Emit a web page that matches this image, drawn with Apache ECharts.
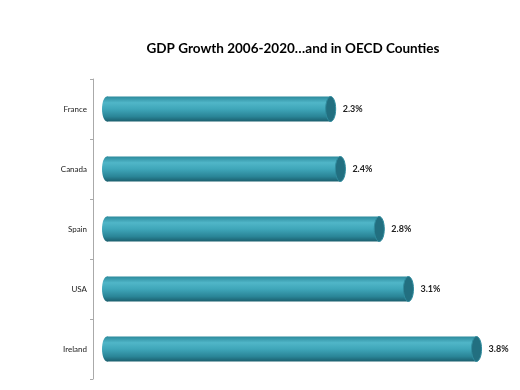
<!DOCTYPE html>
<html><head><meta charset="utf-8">
<script src="https://cdn.jsdelivr.net/npm/echarts@6/dist/echarts.min.js"></script>
<style>html,body{margin:0;padding:0;background:#fff}#c{width:520px;height:390px}</style>
</head><body><div id="c"></div>
<script>
const categories = ['France', 'Canada', 'Spain', 'USA', 'Ireland'];
const values = [2.3, 2.4, 2.8, 3.1, 3.8];
const valueLabels = ['2.3%', '2.4%', '2.8%', '3.1%', '3.8%'];

const chart = echarts.init(document.getElementById('c'));
const bodyGrad = () => new echarts.graphic.LinearGradient(0, 0, 0, 1, [
  {offset: 0, color: '#2c8a9c'},
  {offset: 0.25, color: '#50b6c8'},
  {offset: 0.5, color: '#3fa6b9'},
  {offset: 0.8, color: '#2a8597'},
  {offset: 1, color: '#1b5f6e'}
]);
chart.setOption({
  animation: false,
  title: {
    text: 'GDP Growth 2006-2020…and in OECD Counties',
    left: 288, top: 37, textAlign: 'center',
    textStyle: {fontFamily: 'Lato', fontWeight: 'bold', fontSize: 13.5, color: '#000'}
  },
  grid: {left: 93, right: 24, top: 79, bottom: 11},
  xAxis: {type: 'value', min: -0.144, max: 4, show: false},
  yAxis: {
    type: 'category', data: categories, inverse: true,
    axisLine: {onZero: false, lineStyle: {color: '#aaaaaa', width: 1}},
    axisTick: {show: true, length: 3, lineStyle: {color: '#aaaaaa'}},
    axisLabel: {fontFamily: 'Lato', fontSize: 8, color: '#222', margin: 6}
  },
  series: [{
    type: 'custom',
    encode: {x: 0, y: 1},
    data: values.map((v, i) => [v, i]),
    renderItem: function (params, api) {
      const i = api.value(1);
      const end = api.coord([api.value(0), i]);
      const start = api.coord([0, i]);
      const h = 25;
      const cy = end[1];
      const rx = 5;
      return {
        type: 'group',
        children: [
          {type: 'ellipse', shape: {cx: start[0], cy: cy, rx: rx, ry: h / 2},
           style: {fill: bodyGrad()}},
          {type: 'rect', shape: {x: start[0], y: cy - h / 2, width: end[0] - start[0], height: h},
           style: {fill: bodyGrad()}},
          {type: 'ellipse', shape: {cx: end[0], cy: cy, rx: rx, ry: h / 2},
           style: {fill: '#226f80', stroke: '#2f8c9e', lineWidth: 1}},
          {type: 'text', x: end[0] + 12, y: cy,
           style: {text: valueLabels[params.dataIndex], fontFamily: 'Lato', fontWeight: 'bold', fontSize: 9,
                   fill: '#222', verticalAlign: 'middle', align: 'left'}}
        ]
      };
    }
  }]
});
</script></body></html>
